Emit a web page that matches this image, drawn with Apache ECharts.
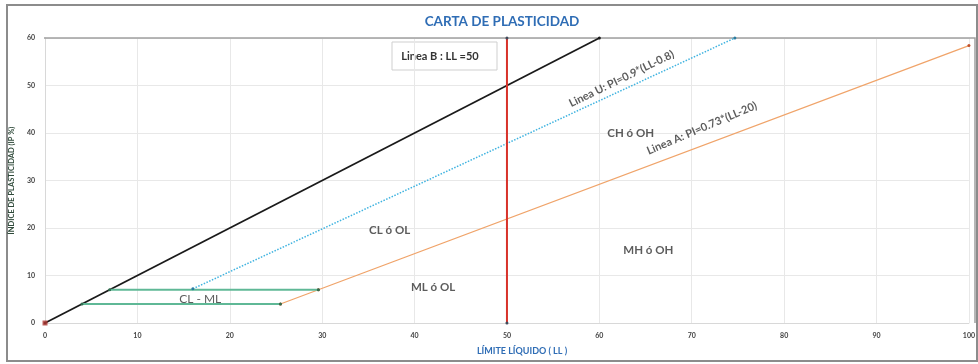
<!DOCTYPE html>
<html>
<head>
<meta charset="utf-8">
<script src="https://cdn.jsdelivr.net/npm/echarts@6/dist/echarts.min.js"></script>
<style>
  html, body { margin: 0; padding: 0; background: #ffffff; }
  #chart { width: 978px; height: 364px; }
</style>
</head>
<body>
<div id="chart"></div>
<script>
// Axis ranges and ticks
const xTicks = [0, 10, 20, 30, 40, 50, 60, 70, 80, 90, 100];
const yTicks = [0, 10, 20, 30, 40, 50, 60];

// Plasticity chart boundary lines, [LL, PI] pairs
const upperLimit = [[0, 0], [60, 60]];            // PI = LL
const lineU = [[16, 7.2], [74.67, 60]];          // PI = 0.9*(LL-8)
const lineA = [[25.48, 4], [29.59, 7], [100, 58.4]]; // PI = 0.73*(LL-20)
const clmlTop = [[7, 7], [29.59, 7]];
const clmlBottom = [[4, 4], [25.48, 4]];
const lineB = [[50, 0], [50, 60]];                // LL = 50
const origin = [[0, 0]];

// Zone and line annotations: text, [LL, PI], rotation in degrees
const zoneTexts = ['CL ó OL', 'ML ó OL', 'CH ó OH', 'MH ó OH', 'CL - ML'];
const zonePoints = [[37.3, 19.6], [42.0, 7.6], [63.4, 40.0], [65.3, 15.4], [16.8, 5.1]];
const lineTexts = ['Linea U: PI=0.9*(LL-0.8)', 'Linea A: PI=0.73*(LL-20)'];
const linePoints = [[62.4, 51.4], [71.1, 41.0]];
const lineAngles = [26, 23];

const chart = echarts.init(document.getElementById('chart'), null, { renderer: 'canvas' });

const font = 'Lato, "Open Sans", sans-serif';

function lineSeries(name, data, color, width, type, symbolColor) {
  return {
    name: name,
    type: 'line',
    data: data,
    showSymbol: true,
    symbol: 'circle',
    symbolSize: 3,
    itemStyle: { color: symbolColor || color },
    lineStyle: { color: color, width: width, type: type || 'solid' },
    silent: true,
    z: 3
  };
}

const zoneData = zoneTexts.map((t, i) => ({
  value: zonePoints[i],
  label: {
    show: true,
    formatter: t,
    fontSize: i === 4 ? 12 : 11.5,
    fontWeight: i === 4 ? 'normal' : 'bold',
    color: '#333333',
    fontFamily: font
  }
}));
const lineLabelData = lineTexts.map((t, i) => ({
  value: linePoints[i],
  label: {
    show: true,
    formatter: t,
    rotate: lineAngles[i],
    fontSize: 11,
    fontWeight: 'bold',
    color: '#333333',
    fontFamily: font
  }
}));

const option = {
  backgroundColor: '#ffffff',
  animation: false,
  title: {
    text: 'CARTA DE PLASTICIDAD',
    left: 497,
    textAlign: 'center',
    top: 10,
    textStyle: { color: '#2f6db5', fontSize: 13.5, fontWeight: 'bold', fontFamily: font }
  },
  grid: { left: 44, right: 3, top: 38, bottom: 41, containLabel: false },
  xAxis: {
    type: 'value',
    min: xTicks[0],
    max: xTicks[xTicks.length - 1],
    interval: 10,
    axisLine: { show: true, lineStyle: { color: '#d8d8d8' } },
    axisTick: { show: false },
    axisLabel: { fontSize: 7, color: '#444', fontWeight: 'bold', margin: 9, fontFamily: font },
    splitLine: { show: true, lineStyle: { color: '#e8e8e8' } }
  },
  yAxis: {
    type: 'value',
    min: yTicks[0],
    max: yTicks[yTicks.length - 1],
    interval: 10,
    name: 'ÍNDICE DE PLASTICIDAD (IP %)',
    nameLocation: 'middle',
    nameGap: 23,
    nameTextStyle: { fontSize: 7.5, color: '#2f4a3a', fontWeight: 'bold', fontFamily: font },
    axisLine: { show: true, lineStyle: { color: '#d8d8d8' } },
    axisTick: { show: false },
    axisLabel: { fontSize: 7, color: '#444', fontWeight: 'bold', margin: 10, fontFamily: font },
    splitLine: { show: true, lineStyle: { color: '#e8e8e8' } }
  },
  graphic: [
    {
      type: 'rect',
      shape: { x: 7, y: 5, width: 970, height: 356 },
      style: { fill: 'none', stroke: '#8c8c8c', lineWidth: 2 },
      silent: true
    },
    {
      type: 'polyline',
      shape: { points: [[44, 38], [975, 38], [975, 323]] },
      style: { fill: 'none', stroke: '#a0a0a0', lineWidth: 1.5 },
      silent: true,
      z: 1
    },
    {
      type: 'text',
      x: 522,
      y: 351,
      style: {
        text: 'LÍMITE LÍQUIDO ( LL )',
        fill: '#2f6db5',
        fontSize: 9,
        fontWeight: 'bold',
        fontFamily: font,
        align: 'center',
        verticalAlign: 'middle'
      }
    },
    {
      type: 'group',
      x: 392,
      y: 42,
      children: [
        {
          type: 'rect',
          shape: { x: 0, y: 0, width: 105, height: 28 },
          style: { fill: '#ffffff', stroke: '#cfcfcf', lineWidth: 1 }
        },
        {
          type: 'text',
          x: 48,
          y: 14,
          style: {
            text: 'Linea B : LL =50',
            fill: '#333333',
            fontSize: 11,
            fontWeight: 'bold',
            fontFamily: font,
            align: 'center',
            verticalAlign: 'middle'
          }
        }
      ],
      z: 10
    }
  ],
  series: [
    lineSeries('Línea superior', upperLimit, '#1a1a1a', 1.8, 'solid'),
    lineSeries('Línea U', lineU, '#3fb3e0', 1.5, 'dotted', '#2a7ca0'),
    lineSeries('Línea A', lineA, '#f0a46a', 1.3, 'solid', '#c0502a'),
    lineSeries('CL-ML superior', clmlTop, '#5fb896', 1.8, 'solid', '#2f6e50'),
    lineSeries('CL-ML inferior', clmlBottom, '#5fb896', 1.8, 'solid', '#2f6e50'),
    lineSeries('Línea B', lineB, '#d8322a', 2, 'solid', '#404a5a'),
    {
      type: 'scatter',
      data: origin,
      symbol: 'rect',
      symbolSize: 5,
      itemStyle: { color: '#b03a35' },
      silent: true,
      z: 5
    },
    {
      type: 'scatter',
      data: zoneData.concat(lineLabelData),
      symbolSize: 0,
      label: { show: true, position: 'inside' },
      silent: true,
      z: 6
    }
  ]
};

chart.setOption(option);
</script>
</body>
</html>
